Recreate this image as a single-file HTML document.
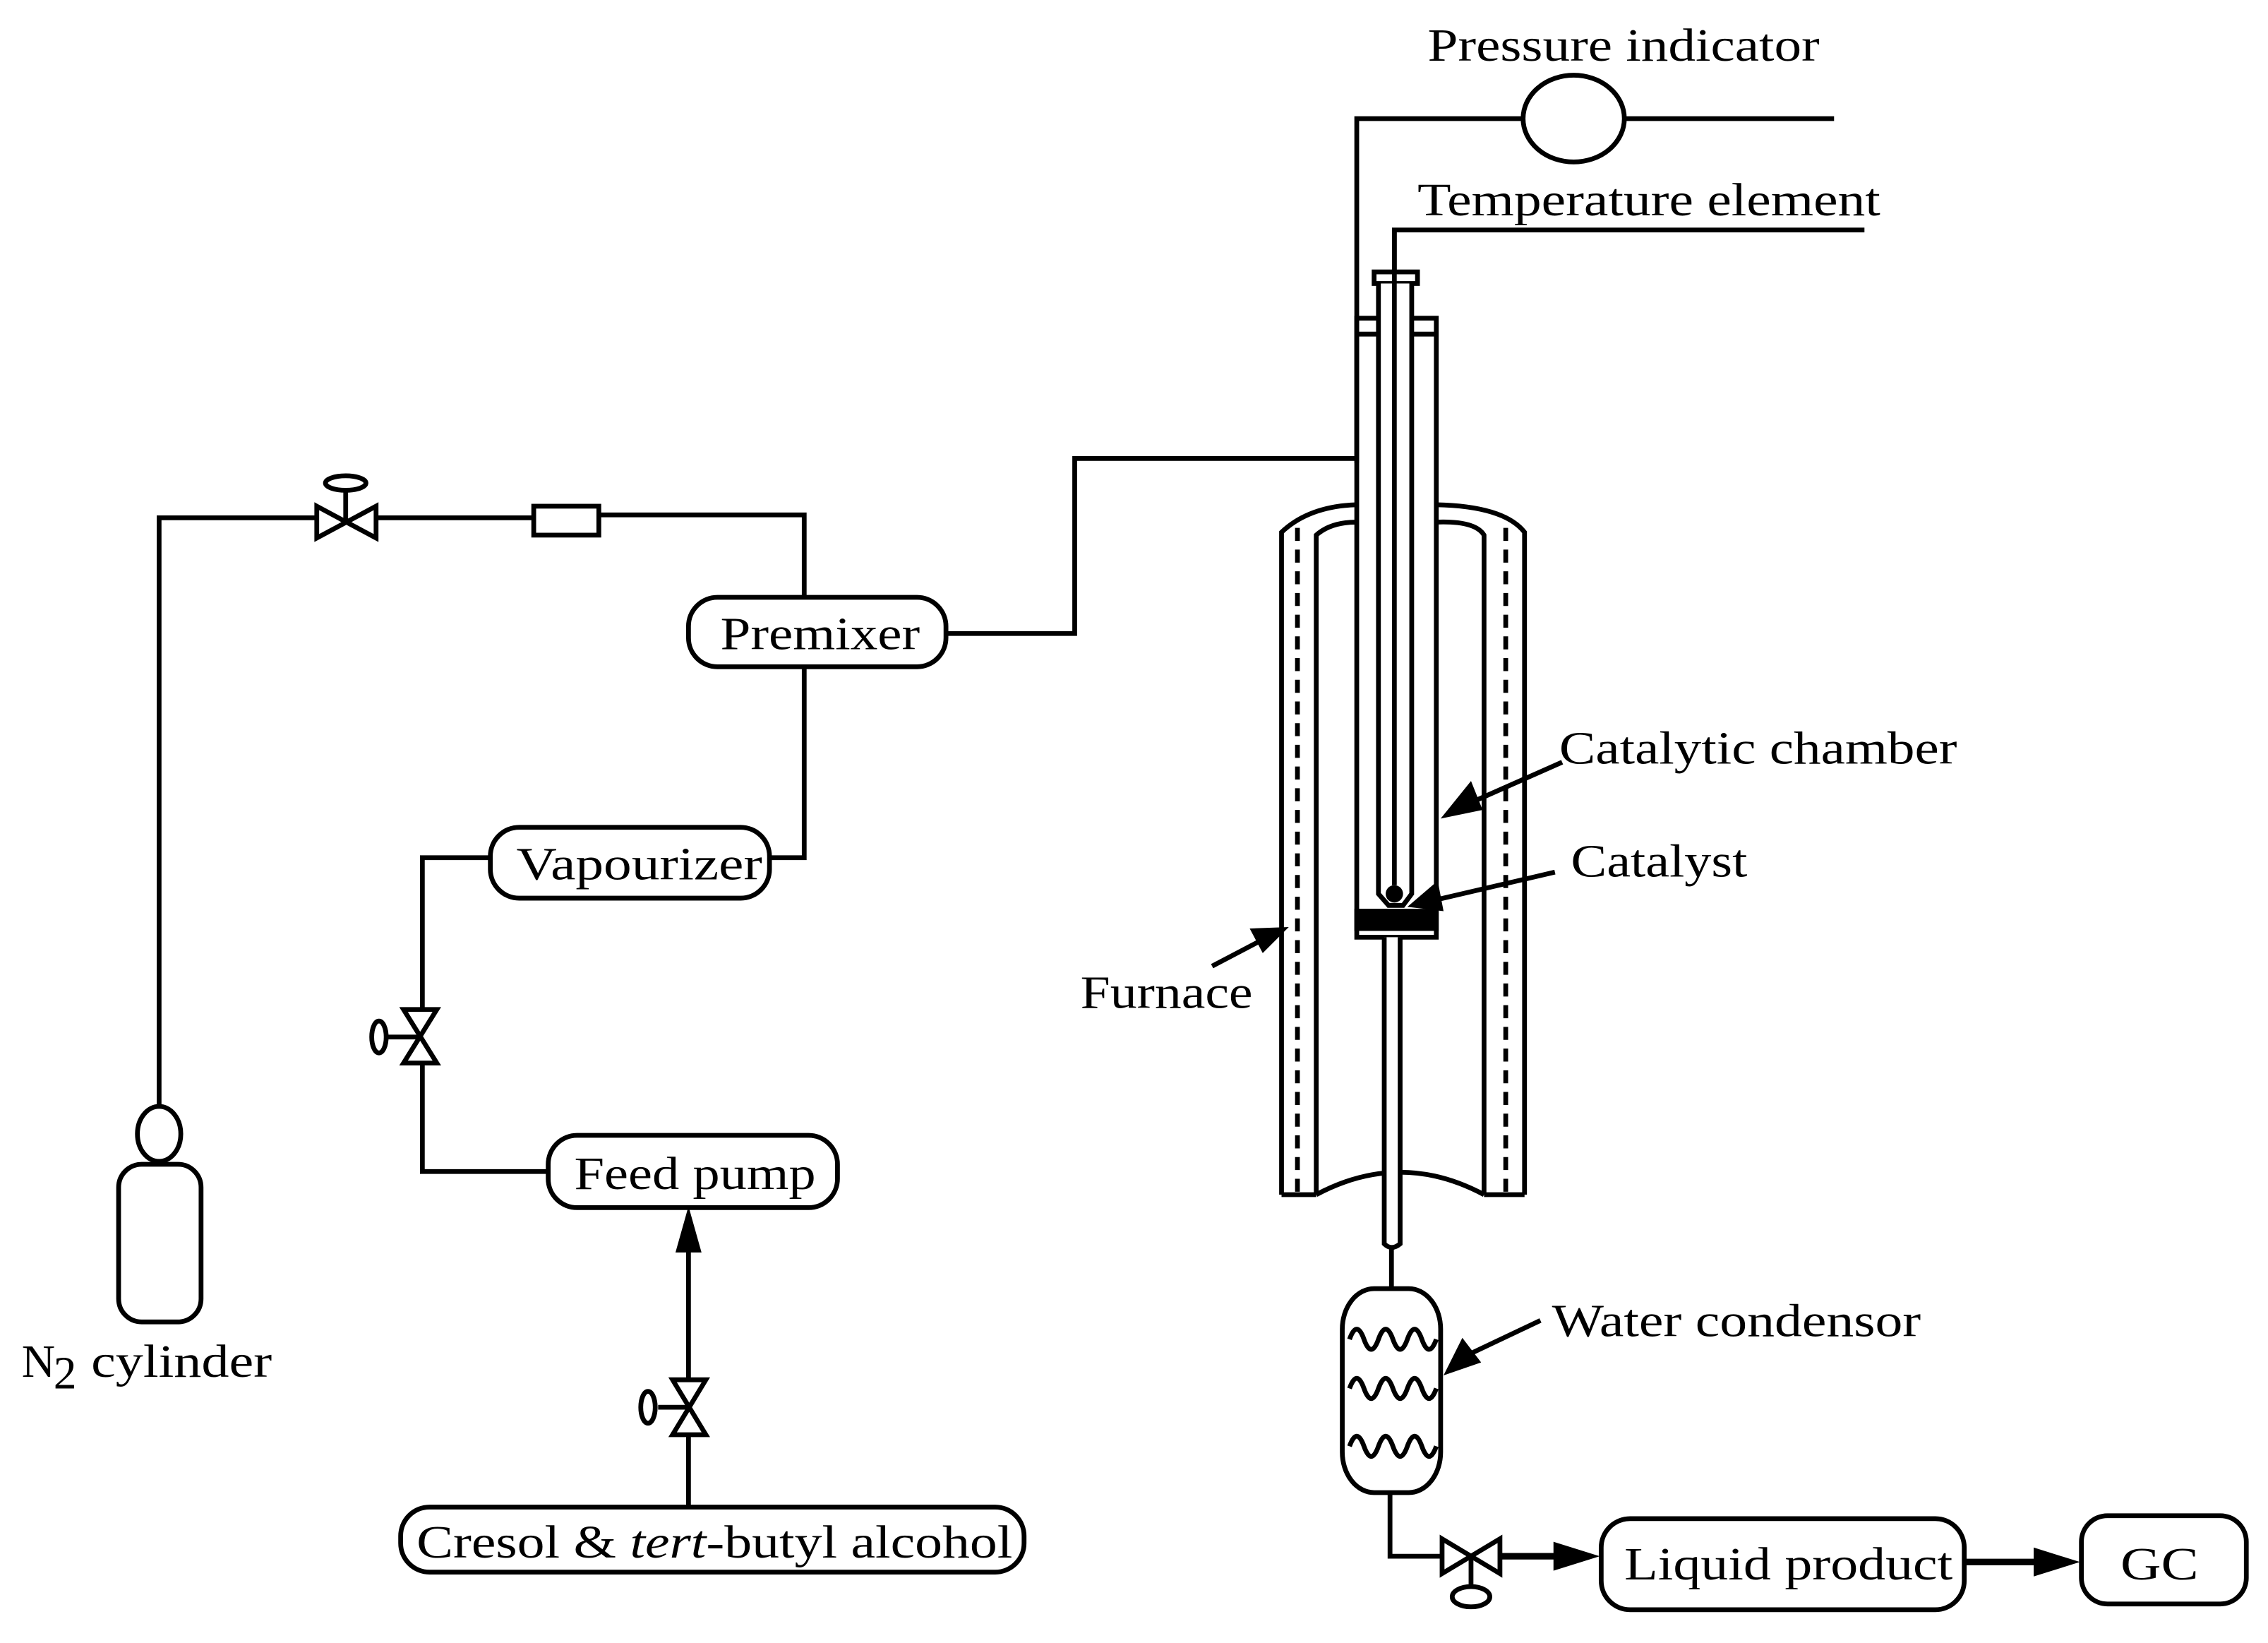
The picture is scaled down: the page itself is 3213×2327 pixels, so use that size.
<!DOCTYPE html>
<html><head><meta charset="utf-8"><style>
html,body{margin:0;padding:0;background:#fff;}
svg{display:block;}
text{font-family:"Liberation Serif","Times New Roman",serif;font-size:32px;fill:#000;}
</style></head><body>
<svg width="3213" height="2327" viewBox="0 0 1568 1136" preserveAspectRatio="none" xmlns="http://www.w3.org/2000/svg">
<g fill="none" stroke="#000" stroke-width="3.3">
<polyline points="938,320 938,82 1053,82"/>
<line x1="1123" y1="82" x2="1268" y2="82"/>
<ellipse cx="1088" cy="82" rx="35" ry="30"/>
<polyline points="964,612 964,159 1289,159"/>
<rect x="938" y="220" width="55" height="428"/>
<line x1="938" y1="231" x2="993" y2="231"/>
<rect x="950" y="188" width="30" height="8" fill="#fff"/>
<path d="M953,196 V618 L960,626 H970 L976,618 V196" fill="#fff"/>
<line x1="964" y1="159" x2="964" y2="612"/>
<circle cx="964" cy="618" r="6" fill="#000" stroke="none"/>
<rect x="938" y="630" width="55" height="12" fill="#000"/>
<polyline points="655,438 743,438 743,317 938,317"/>
<path d="M886,826 V368 Q905,350 938,349"/>
<path d="M910,826 V370 Q920,361 938,361"/>
<path d="M993,349 Q1040,350 1054,368 V826"/>
<path d="M993,361 Q1020,360 1026,370 V826"/>
<line x1="886" y1="826" x2="910" y2="826"/>
<line x1="1026" y1="826" x2="1054" y2="826"/>
<path d="M910,826 Q968,795 1026,826"/>
<line x1="897" y1="365" x2="897" y2="826" stroke-dasharray="9,6"/>
<line x1="1041" y1="365" x2="1041" y2="826" stroke-dasharray="9,6"/>
<path d="M957,648 V860 Q962,865 968,860 V648" fill="#fff"/>
<line x1="962" y1="862" x2="962" y2="891"/>
<rect x="928" y="891" width="68" height="141" rx="22" ry="28"/>
<path d="M933,926 q5,-14 10,0 q5,14 10,0 q5,-14 10,0 q5,14 10,0 q5,-14 10,0 q5,14 10,0"/>
<path d="M933,960 q5,-14 10,0 q5,14 10,0 q5,-14 10,0 q5,14 10,0 q5,-14 10,0 q5,14 10,0"/>
<path d="M933,1000 q5,-14 10,0 q5,14 10,0 q5,-14 10,0 q5,14 10,0 q5,-14 10,0 q5,14 10,0"/>
<polyline points="961,1032 961,1076 997,1076"/>
<path d="M997,1064 L1037,1088 V1064 L997,1088 Z"/>
<line x1="1017" y1="1076" x2="1017" y2="1098"/>
<ellipse cx="1017" cy="1104" rx="13" ry="7"/>
<line x1="1037" y1="1076" x2="1080" y2="1076" stroke-width="4.5"/>
<rect x="1107" y="1050" width="251" height="63" rx="20"/>
<line x1="1358" y1="1080" x2="1412" y2="1080" stroke-width="4.5"/>
<rect x="1439" y="1048" width="114" height="61" rx="18"/>
<polyline points="110,764 110,358 219,358"/>
<path d="M219,350 L260,372 V350 L219,372 Z"/>
<line x1="239" y1="361" x2="239" y2="339"/>
<ellipse cx="239" cy="334" rx="14" ry="5"/>
<polyline points="260,358 369,358"/>
<rect x="369" y="350" width="45" height="20"/>
<polyline points="414,356 556,356 556,413"/>
<rect x="476" y="413" width="178" height="48" rx="20"/>
<polyline points="556,461 556,593 532,593"/>
<rect x="339" y="572" width="193" height="49" rx="20"/>
<polyline points="339,593 292,593 292,698"/>
<path d="M279,698 H302 L279,735 H302 Z"/>
<line x1="290" y1="717" x2="268" y2="717"/>
<ellipse cx="262" cy="717" rx="5" ry="11"/>
<polyline points="292,735 292,810 379,810"/>
<rect x="379" y="785" width="200" height="50" rx="20"/>
<line x1="476" y1="954" x2="476" y2="858"/>
<path d="M465,954 H488 L465,992 H488 Z"/>
<line x1="476" y1="973" x2="455" y2="973"/>
<ellipse cx="448" cy="973" rx="5" ry="11"/>
<line x1="476" y1="992" x2="476" y2="1042"/>
<rect x="277" y="1042" width="431" height="45" rx="20"/>
<ellipse cx="110" cy="784" rx="15" ry="19"/>
<rect x="82" y="805" width="57" height="109" rx="16"/>
<line x1="1080" y1="527" x2="1010" y2="558"/>
<line x1="1075" y1="603" x2="985" y2="624"/>
<line x1="838" y1="668" x2="878" y2="647"/>
<line x1="1065" y1="913" x2="1008" y2="940"/>
</g>
<g fill="#000">
<polygon points="476,834 467,866 485,866"/>
<polygon points="1106,1076 1074,1066 1074,1086"/>
<polygon points="1438,1080 1406,1070 1406,1090"/>
<polygon points="996,566 1017,540 1025,560"/>
<polygon points="973,627 994,609 998,630"/>
<polygon points="891,641 864,642 873,659"/>
<polygon points="998,951 1011,925 1024,942"/>
</g>
<text x="987" y="42" textLength="271" lengthAdjust="spacingAndGlyphs">Pressure indicator</text>
<text x="980" y="149" textLength="320" lengthAdjust="spacingAndGlyphs">Temperature element</text>
<text x="1078" y="528" textLength="275" lengthAdjust="spacingAndGlyphs">Catalytic chamber</text>
<text x="1086" y="606" textLength="122" lengthAdjust="spacingAndGlyphs">Catalyst</text>
<text x="747" y="697" textLength="119" lengthAdjust="spacingAndGlyphs">Furnace</text>
<text x="498" y="449" textLength="138" lengthAdjust="spacingAndGlyphs">Premixer</text>
<text x="357" y="608" textLength="170" lengthAdjust="spacingAndGlyphs">Vapourizer</text>
<text x="397" y="822" textLength="167" lengthAdjust="spacingAndGlyphs">Feed pump</text>
<text x="288" y="1077" textLength="412" lengthAdjust="spacingAndGlyphs">Cresol &amp; <tspan font-style="italic">tert</tspan>-butyl alcohol</text>
<text x="15" y="952">N</text>
<text x="37" y="960" font-size="22">2</text>
<text x="63" y="952" textLength="125" lengthAdjust="spacingAndGlyphs">cylinder</text>
<text x="1073" y="924" textLength="255" lengthAdjust="spacingAndGlyphs">Water condensor</text>
<text x="1123" y="1092" textLength="227" lengthAdjust="spacingAndGlyphs">Liquid product</text>
<text x="1466" y="1092" textLength="54" lengthAdjust="spacingAndGlyphs">GC</text>
</svg>
</body></html>
